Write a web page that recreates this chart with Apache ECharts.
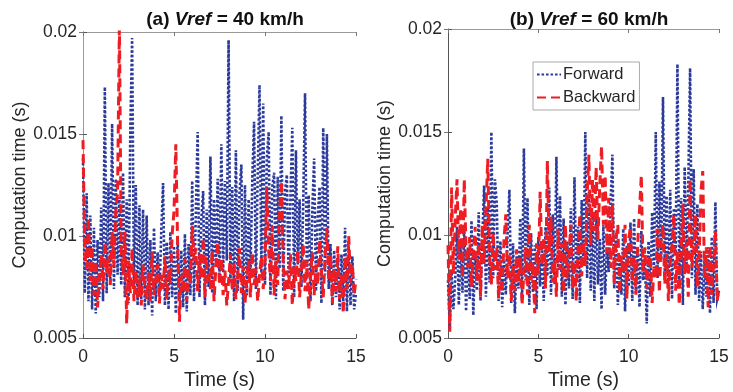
<!DOCTYPE html>
<html>
<head>
<meta charset="utf-8">
<script src="https://cdn.jsdelivr.net/npm/echarts@6/dist/echarts.min.js"></script>
<style>html,body{margin:0;padding:0;background:#fff}#c{width:733px;height:392px}</style>
</head>
<body>
<div id="c"></div>
<script>
// Sample period of the recorded signals (s)
const samplePeriod = 0.1;
const xTicks = [0, 5, 10, 15];
const yTicks = [0.005, 0.01, 0.015, 0.02];
const titles = [['(a) ', 'Vref', ' = 40 km/h'], ['(b) ', 'Vref', ' = 60 km/h']];
const seriesNames = ['Forward', 'Backward'];

// (a) Vref = 40 km/h
const forward40 = [
0.0138,0.0072,0.0121,0.0068,0.0110,0.0064,0.0104,0.0062,0.0098,0.0070,
0.0114,0.0068,0.0173,0.0072,0.0126,0.0078,0.0155,0.0074,0.0128,0.0081,
0.0119,0.0076,0.0131,0.0070,0.0118,0.0067,0.0152,0.0197,0.0074,0.0125,
0.0066,0.0115,0.0069,0.0113,0.0064,0.0110,0.0066,0.0098,0.0061,0.0104,
0.0068,0.0092,0.0071,0.0102,0.0126,0.0066,0.0097,0.0064,0.0102,0.0070,
0.0095,0.0062,0.0099,0.0068,0.0093,0.0065,0.0101,0.0063,0.0096,0.0071,
0.0127,0.0068,0.0112,0.0151,0.0070,0.0108,0.0122,0.0066,0.0113,0.0075,
0.0139,0.0072,0.0118,0.0085,0.0128,0.0079,0.0145,0.0082,0.0127,0.0088,
0.0196,0.0077,0.0124,0.0068,0.0142,0.0073,0.0121,0.0135,0.0059,0.0125,
0.0071,0.0118,0.0080,0.0127,0.0156,0.0074,0.0131,0.0174,0.0082,0.0165,
0.0076,0.0138,0.0151,0.0071,0.0124,0.0131,0.0069,0.0129,0.0084,0.0159,
0.0073,0.0122,0.0130,0.0078,0.0119,0.0153,0.0070,0.0142,0.0086,0.0118,
0.0075,0.0116,0.0170,0.0079,0.0120,0.0068,0.0113,0.0138,0.0073,0.0110,
0.0124,0.0067,0.0153,0.0081,0.0150,0.0074,0.0096,0.0066,0.0093,0.0070,
0.0088,0.0064,0.0091,0.0068,0.0104,0.0063,0.0095,0.0066,0.0090,0.0064,
0.0072];
const backward40 = [
0.0147,0.0092,0.0084,0.0109,0.0078,0.0095,0.0071,0.0088,0.0065,0.0079,
0.0091,0.0074,0.0097,0.0082,0.0090,0.0076,0.0102,0.0085,0.0112,0.0121,
0.0205,0.0094,0.0081,0.0102,0.0057,0.0088,0.0072,0.0094,0.0068,0.0083,
0.0070,0.0077,0.0066,0.0086,0.0074,0.0069,0.0082,0.0068,0.0092,0.0071,
0.0079,0.0086,0.0067,0.0081,0.0074,0.0090,0.0069,0.0083,0.0077,0.0101,
0.0112,0.0145,0.0096,0.0058,0.0081,0.0072,0.0089,0.0068,0.0084,0.0076,
0.0105,0.0088,0.0094,0.0073,0.0091,0.0079,0.0099,0.0070,0.0086,0.0082,
0.0074,0.0093,0.0068,0.0085,0.0097,0.0076,0.0089,0.0071,0.0083,0.0066,
0.0078,0.0091,0.0073,0.0087,0.0069,0.0080,0.0094,0.0072,0.0085,0.0067,
0.0079,0.0088,0.0070,0.0092,0.0076,0.0084,0.0068,0.0081,0.0090,0.0074,
0.0087,0.0124,0.0093,0.0078,0.0105,0.0071,0.0088,0.0076,0.0112,0.0127,
0.0089,0.0069,0.0083,0.0074,0.0091,0.0066,0.0085,0.0078,0.0093,0.0070,
0.0082,0.0096,0.0073,0.0088,0.0064,0.0080,0.0092,0.0071,0.0086,0.0076,
0.0098,0.0083,0.0070,0.0089,0.0104,0.0078,0.0091,0.0067,0.0084,0.0073,
0.0095,0.0069,0.0081,0.0062,0.0090,0.0074,0.0100,0.0077,0.0086,0.0071,
0.0079];

// (b) Vref = 60 km/h
const forward60 = [
0.0078,0.0055,0.0082,0.0064,0.0079,0.0104,0.0066,0.0098,0.0072,0.0105,
0.0063,0.0094,0.0069,0.0107,0.0061,0.0092,0.0073,0.0111,0.0068,0.0099,
0.0124,0.0070,0.0113,0.0077,0.0150,0.0079,0.0127,0.0115,0.0068,0.0097,
0.0065,0.0088,0.0071,0.0102,0.0122,0.0067,0.0096,0.0062,0.0090,0.0074,
0.0108,0.0069,0.0142,0.0078,0.0118,0.0066,0.0101,0.0072,0.0095,0.0064,
0.0099,0.0075,0.0093,0.0068,0.0104,0.0080,0.0123,0.0071,0.0110,0.0076,
0.0138,0.0083,0.0119,0.0070,0.0108,0.0066,0.0097,0.0074,0.0113,0.0069,
0.0128,0.0077,0.0104,0.0067,0.0117,0.0085,0.0150,0.0079,0.0121,0.0073,
0.0109,0.0068,0.0112,0.0076,0.0098,0.0064,0.0105,0.0071,0.0094,0.0082,
0.0116,0.0139,0.0074,0.0101,0.0066,0.0090,0.0071,0.0103,0.0063,0.0095,
0.0075,0.0106,0.0068,0.0108,0.0072,0.0093,0.0065,0.0102,0.0078,0.0088,
0.0057,0.0097,0.0070,0.0111,0.0084,0.0150,0.0079,0.0126,0.0088,0.0167,
0.0081,0.0119,0.0074,0.0122,0.0069,0.0113,0.0090,0.0183,0.0077,0.0118,
0.0066,0.0133,0.0085,0.0124,0.0181,0.0079,0.0132,0.0071,0.0115,0.0068,
0.0092,0.0064,0.0088,0.0070,0.0094,0.0062,0.0099,0.0067,0.0116,0.0069,
0.0073];
const backward60 = [
0.0095,0.0053,0.0123,0.0081,0.0108,0.0127,0.0088,0.0113,0.0079,0.0127,
0.0092,0.0084,0.0099,0.0075,0.0091,0.0104,0.0078,0.0096,0.0070,0.0105,
0.0086,0.0112,0.0137,0.0090,0.0076,0.0101,0.0083,0.0094,0.0069,0.0088,
0.0072,0.0098,0.0110,0.0079,0.0091,0.0068,0.0085,0.0073,0.0093,0.0077,
0.0089,0.0066,0.0082,0.0094,0.0071,0.0105,0.0078,0.0087,0.0062,0.0096,
0.0081,0.0121,0.0085,0.0099,0.0074,0.0136,0.0092,0.0109,0.0077,0.0088,
0.0070,0.0103,0.0083,0.0096,0.0072,0.0105,0.0079,0.0091,0.0105,0.0074,
0.0087,0.0068,0.0094,0.0110,0.0080,0.0097,0.0085,0.0119,0.0139,0.0095,
0.0127,0.0102,0.0133,0.0098,0.0124,0.0143,0.0105,0.0129,0.0091,0.0118,
0.0084,0.0115,0.0076,0.0098,0.0105,0.0072,0.0090,0.0081,0.0105,0.0069,
0.0098,0.0104,0.0077,0.0089,0.0071,0.0096,0.0112,0.0129,0.0082,0.0094,
0.0074,0.0088,0.0090,0.0067,0.0085,0.0079,0.0103,0.0072,0.0098,0.0105,
0.0076,0.0091,0.0068,0.0087,0.0095,0.0110,0.0073,0.0092,0.0066,0.0089,
0.0115,0.0081,0.0097,0.0070,0.0127,0.0084,0.0093,0.0110,0.0075,0.0088,
0.0121,0.0131,0.0079,0.0094,0.0065,0.0095,0.0071,0.0086,0.0102,0.0068,
0.0074];

const BLUE = '#2c3b9b';
const RED = '#ee1d24';
const FONT = '"Liberation Sans", Arial, Helvetica, sans-serif';
const TXT = '#262626';

const pairs = vals => vals.map((v, i) => [+(i * samplePeriod).toFixed(2), v]);

const grids = [
  {left: 83, top: 32, width: 273, height: 306, outerBoundsMode: 'none'},
  {left: 448, top: 29, width: 271, height: 309, outerBoundsMode: 'none'}
];

const xAxes = [], yAxes = [];
grids.forEach((g, gi) => {
  xAxes.push({
    type: 'value', gridIndex: gi, position: 'bottom',
    min: xTicks[0], max: xTicks[xTicks.length - 1], interval: xTicks[1] - xTicks[0],
    name: 'Time (s)', nameLocation: 'middle', nameGap: 32,
    nameTextStyle: {fontSize: 19.5, color: TXT, fontFamily: FONT},
    axisLine: {show: true, lineStyle: {color: '#555', width: 1}},
    axisTick: {show: true, inside: true, length: 4, lineStyle: {color: '#555'}},
    axisLabel: {fontSize: 17.5, color: TXT, fontFamily: FONT, margin: 10},
    splitLine: {show: false}
  });
  xAxes.push({
    type: 'value', gridIndex: gi, position: 'top',
    min: xTicks[0], max: xTicks[xTicks.length - 1], interval: xTicks[1] - xTicks[0],
    axisLine: {show: true, lineStyle: {color: '#999', width: 1}},
    axisTick: {show: true, inside: true, length: 4, lineStyle: {color: '#777'}},
    axisLabel: {show: false}, splitLine: {show: false}
  });
  yAxes.push({
    type: 'value', gridIndex: gi, position: 'left',
    min: yTicks[0], max: yTicks[yTicks.length - 1], interval: yTicks[1] - yTicks[0],
    name: 'Computation time (s)', nameLocation: 'middle', nameGap: 53, nameRotate: 90,
    nameTextStyle: {fontSize: 18, color: TXT, fontFamily: FONT},
    axisLine: {show: true, lineStyle: {color: '#555', width: 1}},
    axisTick: {show: true, inside: true, length: 4, lineStyle: {color: '#555'}},
    axisLabel: {fontSize: 17.5, color: TXT, fontFamily: FONT, margin: 6,
      formatter: v => String(+v.toFixed(3))},
    splitLine: {show: false}
  });
  yAxes.push({
    type: 'value', gridIndex: gi, position: 'right',
    min: yTicks[0], max: yTicks[yTicks.length - 1], interval: yTicks[1] - yTicks[0],
    axisLine: {show: gi === 0, lineStyle: {color: '#999', width: 1}},
    axisTick: {show: true, inside: true, length: 4, lineStyle: {color: '#777'}},
    axisLabel: {show: false}, splitLine: {show: false}
  });
});

const mk = (name, vals, gi, color, dash, width) => ({
  name, type: 'line', xAxisIndex: gi * 2, yAxisIndex: gi * 2,
  data: pairs(vals), symbol: 'none', showSymbol: false, animation: false,
  clip: true,
  lineStyle: {color, width, type: dash, cap: 'butt', join: 'miter'},
  itemStyle: {color}
});

const series = [
  mk(seriesNames[0], forward40, 0, BLUE, [2.6, 1.9], 2.6),
  mk(seriesNames[1], backward40, 0, RED, [9, 5], 3),
  mk(seriesNames[0], forward60, 1, BLUE, [2.6, 1.9], 2.6),
  mk(seriesNames[1], backward60, 1, RED, [9, 5], 3)
];

const mkTitle = (t, cx) => ({
  text: '{a|' + t[0] + '}{i|' + t[1] + '}{a|' + t[2] + '}',
  left: cx, top: 5, textAlign: 'center',
  textStyle: {
    rich: {
      a: {fontSize: 19, fontWeight: 'bold', color: '#111', fontFamily: FONT},
      i: {fontSize: 19, fontWeight: 'bold', fontStyle: 'italic', color: '#111', fontFamily: FONT}
    }
  }
});

const chart = echarts.init(document.getElementById('c'), null, {renderer: 'canvas'});
chart.setOption({
  animation: false,
  backgroundColor: '#fff',
  title: [mkTitle(titles[0], 220), mkTitle(titles[1], 584)],
  grid: grids,
  xAxis: xAxes,
  yAxis: yAxes,
  legend: {
    data: seriesNames, orient: 'vertical', left: 533, top: 62,
    itemWidth: 24, itemHeight: 10, itemGap: 6,
    padding: [4, 4, 4, 3],
    itemStyle: {opacity: 0, borderWidth: 0},
    borderColor: '#aaa', borderWidth: 1, backgroundColor: '#fff',
    textStyle: {fontSize: 16.5, color: TXT, fontFamily: FONT, padding: [0, 0, 0, -3]}
  },
  series
});
</script>
</body>
</html>
